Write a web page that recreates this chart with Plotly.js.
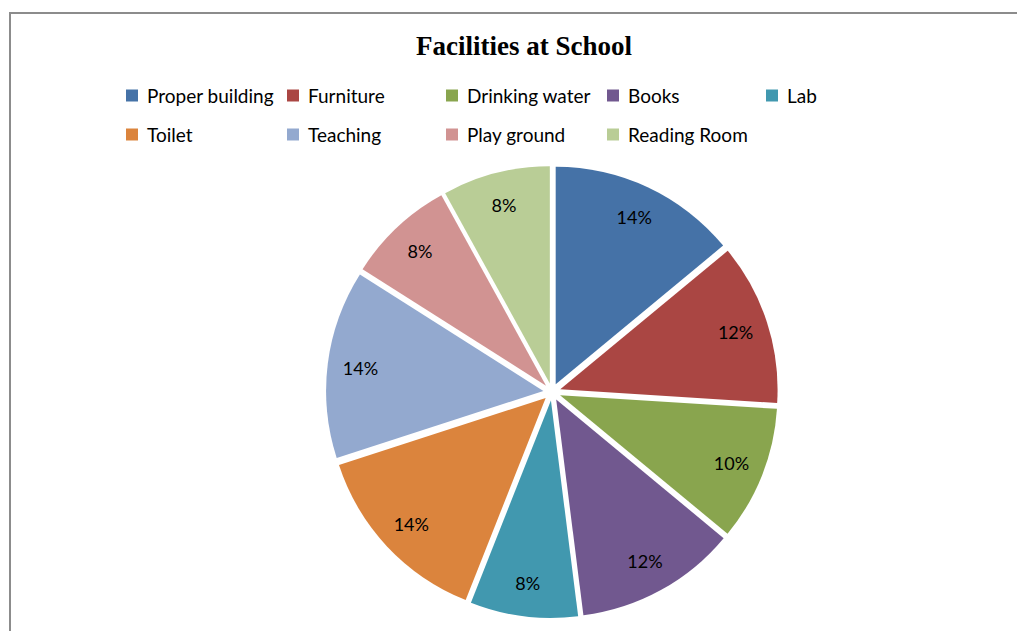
<!DOCTYPE html>
<html>
<head>
<meta charset="utf-8">
<script src="https://cdn.plot.ly/plotly-3.0.1.min.js"></script>
<style>
  html, body { margin: 0; padding: 0; background: #fff; overflow: hidden; }
  #frame { position: absolute; left: 9px; top: 12px; width: 1100px; height: 700px; border-left: 2px solid #8c8c8c; border-top: 2px solid #8c8c8c; }
  #chart { position: absolute; left: 0; top: 0; width: 1017px; height: 631px; }
</style>
</head>
<body>
<div id="frame"></div>
<div id="chart"></div>
<script>
const categories = ["Proper building", "Furniture", "Drinking water", "Books", "Lab", "Toilet", "Teaching", "Play ground", "Reading Room"];
const values = [14, 12, 10, 12, 8, 14, 14, 8, 8];
const colors = ["#4572A7", "#AA4643", "#89A54E", "#71588F", "#4198AF", "#DB843D", "#93A9CF", "#D19392", "#B9CD96"];

const W = 1017, H = 631;
const pieDomainPx = { x0: 326, x1: 778, y0: 165, y1: 619 };
const trace = {
  type: "pie",
  labels: categories,
  values: values,
  sort: false,
  direction: "clockwise",
  rotation: 0,
  pull: categories.map(() => 0.04),
  marker: { colors: colors, line: { width: 0 } },
  textinfo: "percent",
  textposition: "inside",
  insidetextorientation: "horizontal",
  insidetextfont: { family: "Lato, 'Open Sans', sans-serif", size: 18, color: "#000" },
  hoverinfo: "label+percent",
  domain: { x: [pieDomainPx.x0 / W, pieDomainPx.x1 / W], y: [1 - pieDomainPx.y1 / H, 1 - pieDomainPx.y0 / H] }
};

const layout = {
  width: W, height: H,
  margin: { l: 0, r: 0, t: 0, b: 0 },
  paper_bgcolor: "rgba(0,0,0,0)",
  plot_bgcolor: "rgba(0,0,0,0)",
  title: {
    text: "<b>Facilities at School</b>",
    font: { family: "'Liberation Serif', 'Times New Roman', serif", size: 27, color: "#000" },
    x: 524 / W, xanchor: "center", xref: "paper",
    y: 1 - 46 / H, yanchor: "middle", yref: "paper"
  },
  showlegend: true,
  legend: {
    orientation: "h",
    x: 0.1, xanchor: "left",
    y: 1 - 80 / H, yanchor: "top",
    font: { family: "Lato, 'Open Sans', sans-serif", size: 19, color: "#000" },
    itemwidth: 30,
    traceorder: "normal"
  }
};

// legend grid of the reference (symbol left edge, row centre), 5 columns x 2 rows
const legendCols = [126, 287, 446, 607, 766];
const legendRows = [95.5, 134.5];
const symbolToText = 21;
// percentage labels sit near the rim, as in the reference
const labelRadius = 193;

function parseT(g) {
  const m = /translate\(\s*([-\d.e]+)[ ,]*([-\d.e]*)\s*\)/.exec(g.getAttribute("transform") || "");
  return m ? [parseFloat(m[1]), parseFloat(m[2] || 0)] : [0, 0];
}

Plotly.newPlot("chart", [trace], layout, { displayModeBar: false, staticPlot: true }).then(function (gd) {
  const host = gd.getBoundingClientRect();
  gd.querySelectorAll(".legend .scrollbox, .legend").forEach(function (el) { el.removeAttribute("clip-path"); });
  const items = gd.querySelectorAll(".legend .traces");
  items.forEach(function (g, i) {
    const sym = g.querySelector(".legendpoints");
    if (!sym) return;
    const r = sym.getBoundingClientRect();
    const tx = legendCols[i % 5] - (r.left - host.left);
    const ty = legendRows[Math.floor(i / 5)] - (r.top - host.top + r.height / 2);
    const t = parseT(g);
    g.setAttribute("transform", "translate(" + (t[0] + tx) + "," + (t[1] + ty) + ")");
    const txt = g.querySelector("text.legendtext");
    if (txt) {
      const rs = sym.getBoundingClientRect();
      const rt = txt.getBoundingClientRect();
      const want = rs.left + symbolToText;
      const x0 = parseFloat(txt.getAttribute("x") || 0);
      txt.setAttribute("x", x0 + (want - rt.left));
    }
  });

  const cx = (pieDomainPx.x0 + pieDomainPx.x1) / 2, cy = (pieDomainPx.y0 + pieDomainPx.y1) / 2;
  gd.querySelectorAll("text.slicetext").forEach(function (txt) {
    const b = txt.getBoundingClientRect();
    const mx = b.left - host.left + b.width / 2, my = b.top - host.top + b.height / 2;
    const dx = mx - cx, dy = my - cy, d = Math.hypot(dx, dy);
    if (d < 1) return;
    const k = labelRadius / d - 1;
    txt.setAttribute("transform", "translate(" + (dx * k) + "," + (dy * k) + ") " + (txt.getAttribute("transform") || ""));
  });
});
</script>
</body>
</html>
